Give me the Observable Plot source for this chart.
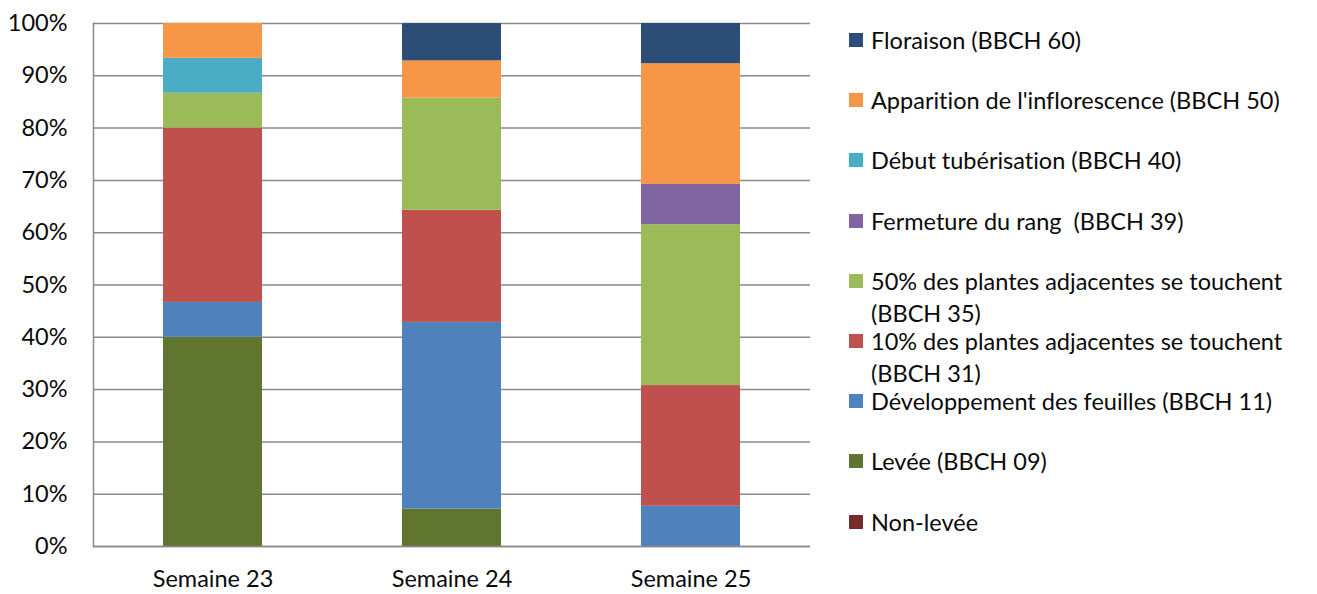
<!DOCTYPE html>
<html><head><meta charset="utf-8">
<script src="https://cdn.jsdelivr.net/npm/d3@7"></script>
<script src="https://cdn.jsdelivr.net/npm/@observablehq/plot@0.6"></script>
<style>
body{margin:0;background:#fff;font-family:Lato,"Open Sans",sans-serif;font-variant-ligatures:none;font-feature-settings:"liga" 0,"clig" 0;}
#wrap{position:relative;width:1317px;height:594px;overflow:hidden;}
#chart{position:absolute;left:0;top:0;}
#chart svg text{font-variant-ligatures:none;font-feature-settings:"liga" 0,"clig" 0;}
#legend{position:absolute;left:849px;top:0;font-size:23.5px;color:#0a0a0a;}
.item{position:absolute;left:0;white-space:pre;line-height:32px;}
.sw{position:absolute;left:0;top:9px;width:14px;height:14px;}
.lbl{position:absolute;left:22px;top:0;white-space:pre;}
</style></head>
<body><div id="wrap"><div id="chart"></div><div id="legend"></div></div>
<script>
const weeks = ["Semaine 23", "Semaine 24", "Semaine 25"];
// bottom-to-top stacking order
const stages = [
  "Non-levée",
  "Levée (BBCH 09)",
  "Développement des feuilles (BBCH 11)",
  "10% des plantes adjacentes se touchent (BBCH 31)",
  "50% des plantes adjacentes se touchent (BBCH 35)",
  "Fermeture du rang  (BBCH 39)",
  "Début tubérisation (BBCH 40)",
  "Apparition de l'inflorescence (BBCH 50)",
  "Floraison (BBCH 60)"
];
const colors = ["#772c2a","#5f7530","#4f81bd","#c0504d","#9bbb59","#8064a2","#4bacc6","#f79646","#2c4d75"];
// shares (fraction) per week, in stage order
const semaine23 = [0, 0.400, 0.0667, 0.3333, 0.0667, 0, 0.0667, 0.0667, 0];
const semaine24 = [0, 0.0714, 0.3571, 0.2143, 0.2143, 0, 0, 0.0714, 0.0714];
const semaine25 = [0, 0, 0.0769, 0.2308, 0.3077, 0.0769, 0, 0.2308, 0.0769];
const yTicks = [0,0.1,0.2,0.3,0.4,0.5,0.6,0.7,0.8,0.9,1];
// legend order (top to bottom) with line breaks
const legendLines = [
  ["Floraison (BBCH 60)"],
  ["Apparition de l'inflorescence (BBCH 50)"],
  ["Début tubérisation (BBCH 40)"],
  ["Fermeture du rang  (BBCH 39)"],
  ["50% des plantes adjacentes se touchent", "(BBCH 35)"],
  ["10% des plantes adjacentes se touchent", "(BBCH 31)"],
  ["Développement des feuilles (BBCH 11)"],
  ["Levée (BBCH 09)"],
  ["Non-levée"]
];

const series = [semaine23, semaine24, semaine25];
const rows = [];
weeks.forEach((w, i) => stages.forEach((s, j) => rows.push({week: w, stage: s, value: series[i][j]})));

const chart = Plot.plot({
  width: 820, height: 594,
  marginLeft: 93, marginRight: 10, marginTop: 23, marginBottom: 48,
  style: {fontFamily: "Lato, 'Open Sans', sans-serif", fontSize: "23.5px", color: "#0a0a0a", background: "#fff"},
  x: {domain: weeks, paddingInner: 0.586, paddingOuter: 0.293, label: null, tickSize: 0, tickPadding: 24},
  y: {domain: [0, 1], ticks: yTicks, tickFormat: d3.format(".0%"), label: null, tickSize: 0, tickPadding: 26},
  color: {domain: stages, range: colors},
  marks: [
    Plot.ruleY(yTicks, {stroke: "#8a8a8a", strokeWidth: 1.5}),
    Plot.barY(rows, {x: "week", y: "value", fill: "stage", order: stages}),
    Plot.frame({anchor: "left", stroke: "#8a8a8a", strokeWidth: 1.5}),
    Plot.ruleY([0], {stroke: "#8a8a8a", strokeWidth: 1.5})
  ]
});
document.getElementById("chart").appendChild(chart);

const legend = document.getElementById("legend");
legendLines.forEach((lines, i) => {
  const full = lines.join(" ");
  const it = document.createElement("div");
  it.className = "item";
  it.style.top = (24 + i * 60.2) + "px";
  const sw = document.createElement("div");
  sw.className = "sw";
  sw.style.background = colors[stages.indexOf(full)];
  const lb = document.createElement("div");
  lb.className = "lbl";
  lb.textContent = lines.join("\n");
  it.appendChild(sw); it.appendChild(lb);
  legend.appendChild(it);
});
</script></body></html>
